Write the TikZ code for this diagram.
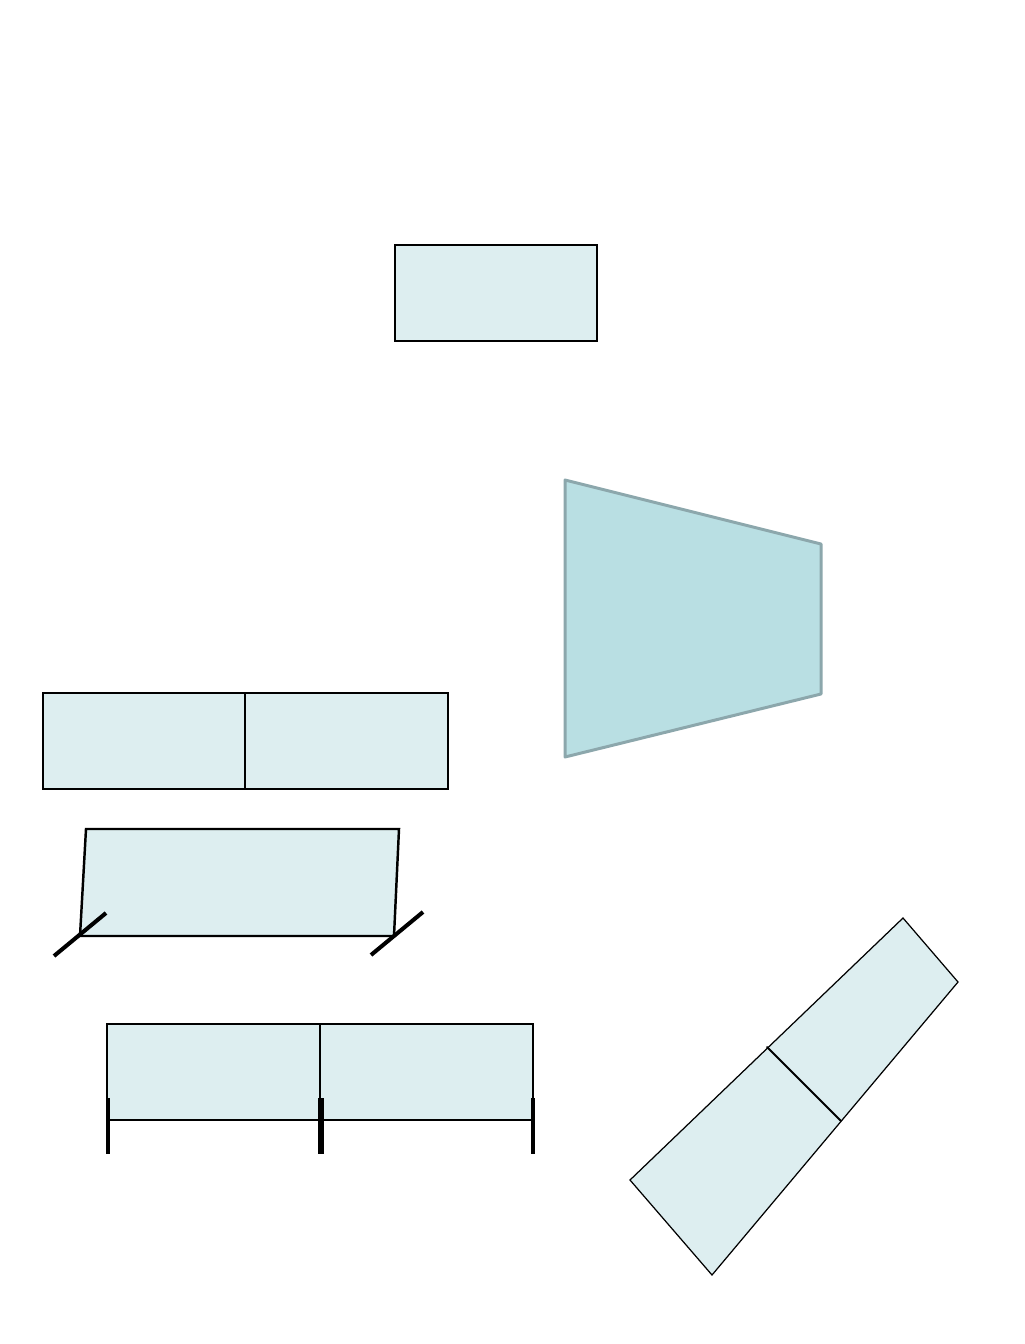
\documentclass[tikz,border=0pt]{standalone}
\usepackage{tikz}
\usepackage{tkz-euclide}
\definecolor{paleblue}{HTML}{DDEEF0}
\definecolor{tealblue}{HTML}{B9DFE3}
\definecolor{tealedge}{HTML}{8CA7AC}
\begin{document}
\begin{tikzpicture}[x=0.02cm,y=-0.02cm]
      %styles for the boxes
      \tikzset{
      panel/.style={fill=paleblue, draw=black, line width=0.7pt},
      slab/.style={fill=tealblue, draw=tealedge, line width=1.7pt, line join=round},
      post/.style={line width=#1, line cap=butt},
      post/.default=2.3pt,
      }
      \useasboundingbox (0,0) rectangle (1024,1344);

      %Stage 1 - single box
      \tkzDefPoint(395,245){A}
      \tkzDefPoint(597,245){B}
      \tkzDefPoint(597,341){C}
      \tkzDefPoint(395,341){D}
      \draw[panel] (A) -- (B) -- (C) -- (D) -- cycle;

      %Stage 2 - tilted slab
      \tkzDefPoint(565,480){P}
      \tkzDefPoint(821,544){Q}
      \tkzDefPoint(821,694){R}
      \tkzDefPoint(565,757){S}
      \draw[slab] (P) -- (Q) -- (R) -- (S) -- cycle;

      %Stage 3 - two boxes
      \tkzDefPoint(43,693){A'}
      \tkzDefPoint(245,693){B'}
      \tkzDefPoint(448,693){C'}
      \tkzDefPoint(448,789){D'}
      \tkzDefPoint(245,789){E'}
      \tkzDefPoint(43,789){F'}
      \draw[panel] (A') -- (C') -- (D') -- (F') -- cycle;
      \tkzDrawSegments[line width=0.7pt](B',E')

      %Stage 4 - sheared box
      \tkzDefPoint(86,829){A''}
      \tkzDefPoint(399,829){B''}
      \tkzDefPoint(394,936){C''}
      \tkzDefPoint(80,936){D''}
      \draw[panel, line width=1.4pt] (A'') -- (B'') -- (C'') -- (D'') -- cycle;
      %hinges
      \tkzDefPoint(54,956){h1}
      \tkzDefPoint(106,913){h2}
      \tkzDefPoint(371,955){h3}
      \tkzDefPoint(423,912){h4}
      \draw[post] (h1) -- (h2);
      \draw[post] (h3) -- (h4);

      %Stage 5 - two boxes on posts
      \tkzDefPoint(107,1024){A'''}
      \tkzDefPoint(320,1024){B'''}
      \tkzDefPoint(533,1024){C'''}
      \tkzDefPoint(533,1120){D'''}
      \tkzDefPoint(320,1120){E'''}
      \tkzDefPoint(107,1120){F'''}
      \draw[panel] (A''') -- (C''') -- (D''') -- (F''') -- cycle;
      \tkzDrawSegments[line width=0.8pt](B''',E''')
      %posts
      \tkzDefPoint(108,1098){p1} \tkzDefPoint(108,1154){q1}
      \tkzDefPoint(321,1098){p2} \tkzDefPoint(321,1154){q2}
      \tkzDefPoint(533,1098){p3} \tkzDefPoint(533,1154){q3}
      \draw[post] (p1) -- (q1);
      \draw[post=2.9pt] (p2) -- (q2);
      \draw[post] (p3) -- (q3);

      %Stage 6 - turned boxes
      \tkzDefPoint(903,918){W}
      \tkzDefPoint(958,982){X}
      \tkzDefPoint(712,1275){Y}
      \tkzDefPoint(630,1180){Z}
      \tkzDefPoint(767,1047){m}
      \tkzDefPoint(841,1121){n}
      \draw[panel] (W) -- (X) -- (Y) -- (Z) -- cycle;
      \tkzDrawSegments[line width=1.1pt](m,n)
\end{tikzpicture}
\end{document}
